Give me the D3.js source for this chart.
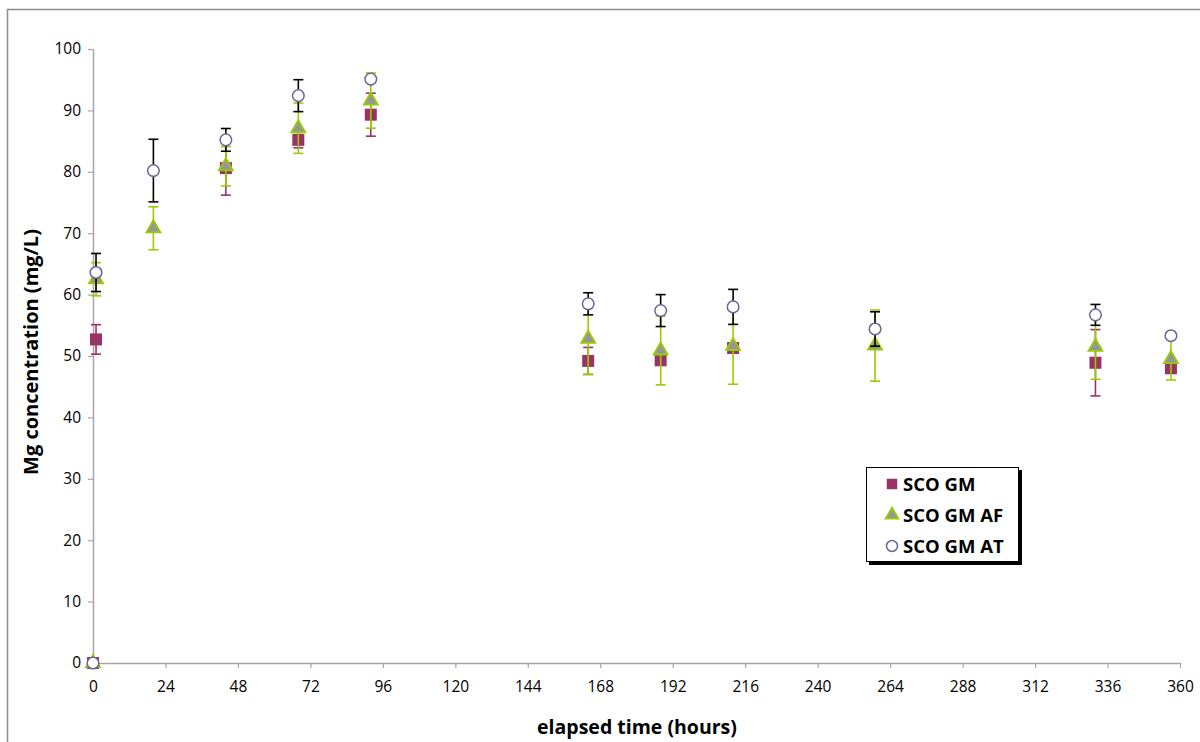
<!DOCTYPE html>
<html><head><meta charset="utf-8">
<script src="https://cdn.jsdelivr.net/npm/d3@7/dist/d3.min.js"></script>
<style>body{margin:0;background:#fff}svg{display:block}</style>
</head><body><svg id="c" width="1200" height="742"></svg>
<script>
const hours = [0, 1, 20, 44, 68, 92, 164, 188, 212, 259, 332, 357];
const gmValues = [0, 52.7, null, 80.6, 85.2, 89.3, 49.2, 49.3, 51.3, null, 48.9, 48.0];
const gmErrors = [0, 2.4, null, 4.4, 1.3, 3.5, 2.2, 0.8, 0.8, null, 5.4, 0.8];
const afValues = [0, 62.5, 70.8, 80.9, 87.1, 91.6, 52.8, 50.9, 51.6, 51.7, 51.5, 49.5];
const afErrors = [0, 2.7, 3.5, 3.2, 4.1, 4.5, 5.8, 5.6, 6.2, 5.8, 5.3, 3.4];
const atValues = [0, 63.6, 80.2, 85.2, 92.4, 95.1, 58.5, 57.4, 58.0, 54.4, 56.7, 53.3];
const atErrors = [0, 3.1, 5.1, 1.85, 2.6, 0, 1.8, 2.6, 2.85, 2.8, 1.7, 0];
const xTicks = [0, 24, 48, 72, 96, 120, 144, 168, 192, 216, 240, 264, 288, 312, 336, 360];
const yTicks = [0, 10, 20, 30, 40, 50, 60, 70, 80, 90, 100];
const seriesNames = ["SCO GM", "SCO GM AF", "SCO GM AT"];

const svg = d3.select("#c");
const FONT = "'Open Sans', 'Noto Sans', sans-serif";
const x = d3.scaleLinear().domain([0, 360]).range([93, 1180]);
const y = d3.scaleLinear().domain([0, 100]).range([663, 49]);

// outer frame
svg.append("path").attr("d", "M7.5,742 V9.5 H1200").attr("fill", "none").attr("stroke", "#8c8c8c").attr("stroke-width", 1.5);

const axisColor = "#a6a6a6";
const gx = svg.append("g").attr("transform", `translate(0,${y(0)})`)
  .call(d3.axisBottom(x).tickValues(xTicks).tickSize(5).tickPadding(13).tickSizeOuter(0));
const gy = svg.append("g").attr("transform", `translate(${x(0)},0)`)
  .call(d3.axisLeft(y).tickValues(yTicks).tickSize(5).tickPadding(7).tickSizeOuter(0));
[gx, gy].forEach(g => {
  g.select(".domain").attr("stroke", axisColor).attr("stroke-width", 1.5);
  g.selectAll(".tick line").attr("stroke", axisColor).attr("stroke-width", 1.2);
  g.selectAll(".tick text").attr("fill", "#000").style("font-family", FONT).style("font-size", "15.5px");
});

svg.append("text").attr("x", 637).attr("y", 734).attr("text-anchor", "middle")
  .style("font-family", FONT).style("font-size", "19.5px").style("font-weight", "bold").text("elapsed time (hours)");
svg.append("text").attr("transform", "translate(38,352) rotate(-90)").attr("text-anchor", "middle")
  .style("font-family", FONT).style("font-size", "20px").style("font-weight", "bold").text("Mg concentration (mg/L)");

function errorBars(vals, errs, color) {
  const g = svg.append("g").attr("stroke", color).attr("stroke-width", 1.6).attr("fill", "none");
  hours.forEach((h, i) => {
    const v = vals[i], e = errs[i];
    if (v == null || !e) return;
    const cx = x(h), y1 = y(v + e), y2 = y(v - e);
    g.append("line").attr("x1", cx).attr("x2", cx).attr("y1", y1).attr("y2", y2);
    g.append("line").attr("x1", cx - 5).attr("x2", cx + 5).attr("y1", y1).attr("y2", y1);
    g.append("line").attr("x1", cx - 5).attr("x2", cx + 5).attr("y1", y2).attr("y2", y2);
  });
}
const sq = d3.symbol().type(d3.symbolSquare).size(144);
const tri = d3.symbol().type(d3.symbolTriangle).size(85);
function markers(vals, sym, fill, stroke, sw) {
  svg.append("g").selectAll("path").data(hours.map((h, i) => [h, vals[i]]).filter(d => d[1] != null))
    .join("path").attr("d", sym).attr("transform", d => `translate(${x(d[0])},${y(d[1])})`)
    .attr("fill", fill).attr("stroke", stroke).attr("stroke-width", sw);
}
const gmColor = "#993366", afLine = "#99cc00", afFill = "#969696", atLine = "#666699";
errorBars(gmValues, gmErrors, gmColor);
markers(gmValues, sq, gmColor, "none", 0);
errorBars(afValues, afErrors, afLine);
markers(afValues, tri, afFill, afLine, 1.8);
errorBars(atValues, atErrors, "#000");
svg.append("g").selectAll("circle").data(hours.map((h, i) => [h, atValues[i]]).filter(d => d[1] != null))
  .join("circle").attr("cx", d => x(d[0])).attr("cy", d => y(d[1])).attr("r", 5.8)
  .attr("fill", "#fff").attr("stroke", atLine).attr("stroke-width", 1.5);

// legend
const lg = svg.append("g");
lg.append("rect").attr("x", 869).attr("y", 470).attr("width", 153).attr("height", 95).attr("fill", "#000");
lg.append("rect").attr("x", 866.5).attr("y", 467.5).attr("width", 152).attr("height", 94).attr("fill", "#fff").attr("stroke", "#000").attr("stroke-width", 1);
const ly = [484, 515, 546];
lg.append("path").attr("d", d3.symbol().type(d3.symbolSquare).size(110)).attr("transform", `translate(892,${ly[0]})`).attr("fill", gmColor);
lg.append("path").attr("d", d3.symbol().type(d3.symbolTriangle).size(70)).attr("transform", `translate(892,${ly[1]})`).attr("fill", afFill).attr("stroke", afLine).attr("stroke-width", 1.8);
lg.append("circle").attr("cx", 892).attr("cy", ly[2]).attr("r", 5.5).attr("fill", "#fff").attr("stroke", atLine).attr("stroke-width", 1.5);
seriesNames.forEach((n, i) => {
  lg.append("text").attr("x", 903).attr("y", ly[i] + 6.5).style("font-family", FONT).style("font-size", "18.5px").style("font-weight", "bold").text(n);
});
</script></body></html>
